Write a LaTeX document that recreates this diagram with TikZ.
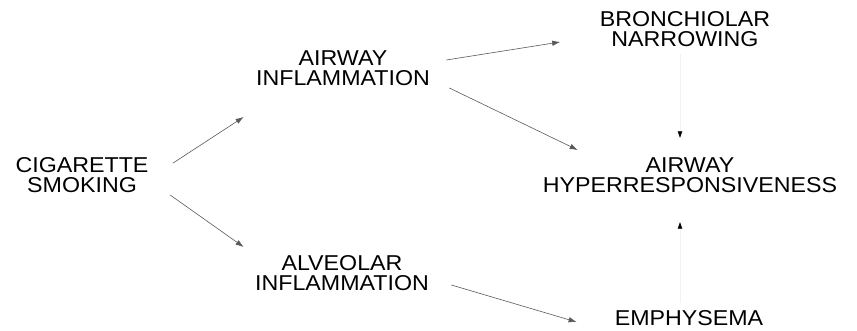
\documentclass[tikz,border=0pt]{standalone}
\usepackage{fontspec}
\setmainfont{Liberation Sans}[FakeStretch=1.08]
\usetikzlibrary{arrows.meta}

\begin{document}
\begin{tikzpicture}[x=1pt, y=-1pt,
    term/.style={align=center, inner sep=0pt, font=\fontsize{21.5}{20}\selectfont},
    link/.style={-{Latex[length=8pt, width=5.5pt]}, line width=0.6pt, black!65},
    faint/.style={-{Latex[length=7pt, width=5pt, color=black]}, line width=0.6pt, black!5}]
    \useasboundingbox (0,0) rectangle (857,331);
    % Cause
    \node[term] (smoking) at (82,175) {CIGARETTE\\SMOKING};
    % Inflammation
    \node[term] (airinfl) at (343,68) {AIRWAY\\INFLAMMATION};
    \node[term] (alvinfl) at (342,273) {ALVEOLAR\\INFLAMMATION};
    % Outcomes
    \node[term] (narrow) at (685,29) {BRONCHIOLAR\\NARROWING};
    \node[term] (hyper) at (690,175) {AIRWAY\\HYPERRESPONSIVENESS};
    \node[term] (emphys) at (689,318) {EMPHYSEMA};
    % Smoking to inflammation
    \draw[link] ([xshift=24.5, yshift=12]smoking.east) -- ([xshift=-12.3, yshift=-31.3]airinfl.south west);
    \draw[link] ([xshift=21.5, yshift=-20]smoking.east) -- ([xshift=-11.3, yshift=26]alvinfl.west);
    % Inflammation to outcomes
    \draw[link] ([xshift=16.3, yshift=8]airinfl.east) -- ([xshift=-39.5, yshift=-13]narrow.west);
    \draw[link] ([xshift=19.3, yshift=-2.3]airinfl.south east) -- ([xshift=35, yshift=7.3]hyper.north west);
    \draw[link] ([xshift=22.3, yshift=-12]alvinfl.east) -- ([xshift=-38, yshift=-4]emphys.west);
    % Faded vertical arrows
    \draw[faint] ([xshift=-5, yshift=-7]narrow.south) -- ([xshift=-10, yshift=19]hyper.north);
    \draw[faint] ([xshift=-9, yshift=7]emphys.north) -- ([xshift=-10, yshift=-29]hyper.south);
\end{tikzpicture}
\end{document}
